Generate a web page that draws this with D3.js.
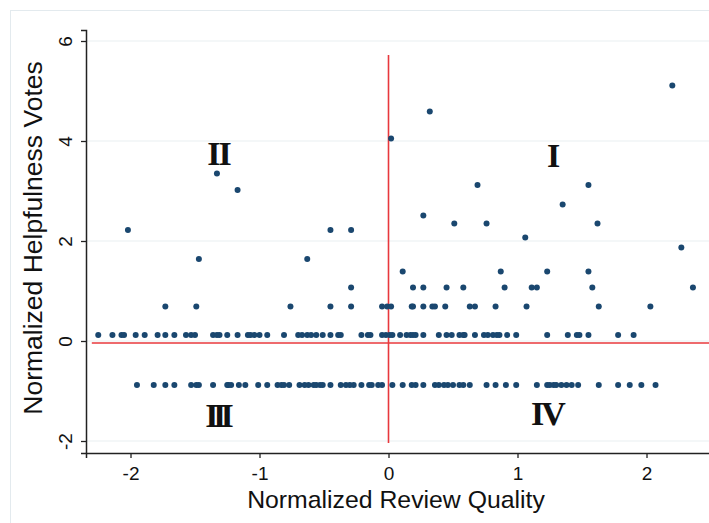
<!DOCTYPE html>
<html>
<head>
<meta charset="utf-8">
<script src="https://cdn.jsdelivr.net/npm/d3@7"></script>
<style>
  body { margin: 0; background: #fff; }
  svg { display: block; font-family: "Liberation Sans", Arial, sans-serif; }
</style>
</head>
<body>
<svg id="chart" width="709" height="523"></svg>
<script>
/* =========================
   DATA
========================= */
// x values of the three dense bands (each band shares one y value)
const bandUpperY = 0.69;
const bandUpperX = [-1.73, -1.49, -0.76, -0.45, -0.29, -0.05, -0.01, 0.02, 0.18, 0.19, 0.27, 0.34,
  0.36, 0.44, 0.63, 0.67, 0.83, 1.07, 1.63, 2.03];

const bandZeroY = 0.12;
const bandZeroX = [-2.25, -2.14, -2.07, -2.05, -1.96, -1.89, -1.79, -1.73, -1.66, -1.57, -1.53, -1.5,
  -1.36, -1.33, -1.31, -1.25, -1.17, -1.09, -1.07, -1.04, -1.0, -0.94, -0.81, -0.7, -0.67, -0.63,
  -0.6, -0.56, -0.51, -0.45, -0.39, -0.37, -0.21, -0.16, -0.14, -0.05, -0.02, 0.01, 0.03,
  0.09, 0.14, 0.17, 0.19, 0.21, 0.27, 0.39, 0.45, 0.49, 0.55, 0.58, 0.59, 0.67, 0.74, 0.77, 0.81,
  0.84, 0.86, 0.92, 0.99, 1.23, 1.39, 1.46, 1.48, 1.55, 1.78, 1.9];

const bandLowerY = -0.88;
const bandLowerX = [-1.95, -1.82, -1.73, -1.66, -1.53, -1.49, -1.47, -1.36, -1.25, -1.24, -1.22, -1.16,
  -1.11, -1.01, -0.94, -0.86, -0.83, -0.81, -0.77, -0.69, -0.65, -0.62, -0.58, -0.56, -0.53, -0.51,
  -0.45, -0.37, -0.33, -0.3, -0.27, -0.21, -0.15, -0.13, -0.08, -0.05, 0.03, 0.11, 0.18, 0.21,
  0.27, 0.36, 0.39, 0.43, 0.46, 0.5, 0.55, 0.58, 0.63, 0.76, 0.83, 0.91, 0.99, 1.15, 1.23, 1.25,
  1.28, 1.3, 1.34, 1.38, 1.42, 1.47, 1.63, 1.78, 1.87, 1.96, 2.07];

// remaining scattered points
const scatterX = [-2.02, -1.33, -1.17, -0.45, -0.29, -1.47, -0.63, -0.29, 0.02, 2.2, 0.32, 0.69,
  1.55, 1.35, 0.27, 0.51, 0.76, 1.62, 1.06, 2.27, 0.11, 0.87, 1.23, 1.55, 0.19, 0.27, 0.45,
  0.58, 0.9, 1.11, 1.15, 1.58, 2.36];
const scatterY = [2.22, 3.35, 3.02, 2.22, 2.22, 1.64, 1.64, 1.07, 4.05, 5.11, 4.59, 3.12,
  3.12, 2.73, 2.51, 2.35, 2.35, 2.35, 2.07, 1.87, 1.39, 1.39, 1.39, 1.39, 1.07, 1.07, 1.07,
  1.07, 1.07, 1.07, 1.07, 1.07, 1.07];

const xTicks = [-2, -1, 0, 1, 2];
const yTicks = [-2, 0, 2, 4, 6];

// quadrant labels (data coords)
const quadLabels = ["I", "II", "III", "IV"];
const quadX = [1.28, -1.31, -1.31, 1.24];
const quadY = [3.72, 3.76, -1.48, -1.44];

// red reference lines
const hLine = { y: -0.04, x0: -2.3, x1: 2.6 };
const vLine = { x: 0.0, y0: -2.04, y1: 5.72 };

/* =========================
   SETUP
========================= */
const svg = d3.select("#chart");
const x = d3.scaleLinear().domain([-2.345, 2.6]).range([86, 86 + 129 * (2.6 + 2.345)]);
const y = d3.scaleLinear().domain([-2.24, 6.22]).range([453, 30]);

// outer graph frame
svg.append("rect")
  .attr("x", 10.5).attr("y", 10.5)
  .attr("width", 760).attr("height", 560)
  .attr("fill", "#fff")
  .attr("stroke", "#e3eaee");

// gridlines
svg.append("g")
  .selectAll("line")
  .data(yTicks)
  .join("line")
  .attr("x1", 86).attr("x2", 709)
  .attr("y1", (d) => y(d)).attr("y2", (d) => y(d))
  .attr("stroke", "#e9f0f2")
  .attr("stroke-width", 1.2);

/* ===== AXES ===== */
const fmt = (d) => String(d);

const xAxis = svg.append("g")
  .attr("transform", `translate(0,${y(-2.24)})`)
  .call(d3.axisBottom(x).tickValues(xTicks).tickSize(5).tickPadding(9).tickFormat(fmt));
xAxis.select(".domain").attr("stroke", "#222").attr("stroke-width", 1.5);
xAxis.selectAll(".tick line").attr("stroke", "#222").attr("stroke-width", 1.3);
xAxis.selectAll(".tick text")
  .attr("font-size", 19)
  .attr("font-family", "Liberation Sans, Arial, sans-serif")
  .attr("fill", "#111");

const yAxis = svg.append("g")
  .attr("transform", `translate(${x(-2.345)},0)`)
  .call(d3.axisLeft(y).tickValues(yTicks).tickSize(5).tickFormat(fmt));
yAxis.select(".domain").attr("stroke", "#222").attr("stroke-width", 1.5);
yAxis.selectAll(".tick line").attr("stroke", "#222").attr("stroke-width", 1.3);
yAxis.selectAll(".tick text")
  .attr("x", null).attr("dy", null)
  .attr("transform", "translate(-14,0) rotate(-90)")
  .attr("text-anchor", "middle")
  .attr("font-size", 19)
  .attr("font-family", "Liberation Sans, Arial, sans-serif")
  .attr("fill", "#111");

/* ===== TITLES ===== */
svg.append("text")
  .attr("x", 396).attr("y", 508)
  .attr("text-anchor", "middle")
  .attr("font-size", 24.8)
  .attr("fill", "#111")
  .text("Normalized Review Quality");

svg.append("text")
  .attr("transform", "translate(42,238) rotate(-90)")
  .attr("text-anchor", "middle")
  .attr("font-size", 26.5)
  .attr("fill", "#111")
  .text("Normalized Helpfulness Votes");

/* ===== REFERENCE LINES ===== */
svg.append("line")
  .attr("x1", x(hLine.x0)).attr("x2", x(hLine.x1))
  .attr("y1", y(hLine.y)).attr("y2", y(hLine.y))
  .attr("stroke", "#e8383d").attr("stroke-width", 1.6);
svg.append("line")
  .attr("x1", x(vLine.x)).attr("x2", x(vLine.x))
  .attr("y1", y(vLine.y0)).attr("y2", y(vLine.y1))
  .attr("stroke", "#e8383d").attr("stroke-width", 1.6);

/* ===== POINTS ===== */
const points = [
  ...bandUpperX.map((v) => [v, bandUpperY]),
  ...bandZeroX.map((v) => [v, bandZeroY]),
  ...bandLowerX.map((v) => [v, bandLowerY]),
  ...scatterX.map((v, i) => [v, scatterY[i]]),
];

svg.append("g")
  .selectAll("circle")
  .data(points)
  .join("circle")
  .attr("cx", (d) => x(d[0]))
  .attr("cy", (d) => y(d[1]))
  .attr("r", 3)
  .attr("fill", "#1a476f");

/* ===== QUADRANT LABELS ===== */
// tighter spacing so the serifs join like the roman-numeral glyphs
const labelSpacing = { I: 0, II: -1.8, III: -5.5, IV: -3 };

svg.append("g")
  .selectAll("text")
  .data(quadLabels)
  .join("text")
  .attr("x", (d, i) => x(quadX[i]) + labelSpacing[d] / 2)
  .attr("y", (d, i) => y(quadY[i]) + 11.5)
  .attr("text-anchor", "middle")
  .attr("font-family", "Liberation Serif, Times New Roman, serif")
  .attr("font-weight", "bold")
  .attr("font-size", 34)
  .attr("letter-spacing", (d) => labelSpacing[d])
  .attr("fill", "#111")
  .text((d) => d);
</script>
</body>
</html>
